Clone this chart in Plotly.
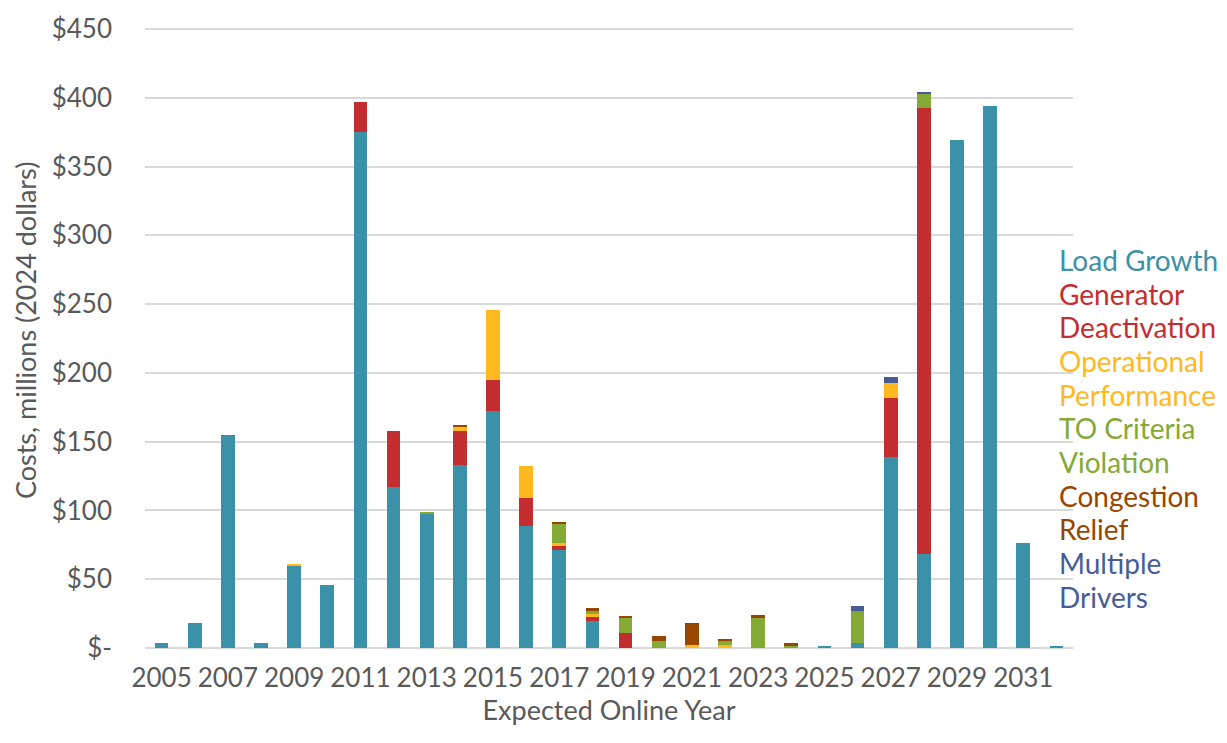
import plotly.graph_objects as go

# Expected online year of each project group
years = list(range(2005, 2033))

# Costs by driver, millions of 2024 dollars
load_growth = [4, 18, 155, 4, 60, 45.7, 375, 117, 98, 133, 172.5, 89, 71, 19.6,
               0, 0, 0, 0, 0, 0, 1.3, 3.3, 139.2, 68.4, 369.4, 394, 76, 1.2]
generator_deactivation = [0, 0, 0, 0, 0, 0, 22, 41, 0, 24.7, 22, 20, 3, 2.9,
                          10.8, 0, 0, 0, 0, 0, 0, 0, 42.4, 324.5, 0, 0, 0, 0]
operational_performance = [0, 0, 0, 0, 1, 0, 0, 0, 0, 3, 51.5, 23, 2, 2.4,
                           0, 0, 2.4, 2.2, 0, 0, 0, 0, 11.3, 0, 0, 0, 0, 0]
to_criteria_violation = [0, 0, 0, 0, 0, 0, 0, 0, 1, 0, 0, 0, 14.7, 2.1,
                         11.2, 5.2, 0, 3.1, 22.5, 1.9, 0, 23.7, 0, 10.5, 0, 0, 0, 0]
congestion_relief = [0, 0, 0, 0, 0, 0, 0, 0, 0, 1, 0, 0, 1, 2.2,
                     0.8, 3.6, 15.6, 1, 1.2, 1.4, 0, 0, 0, 0, 0, 0, 0, 0]
multiple_drivers = [0, 0, 0, 0, 0, 0, 0, 0, 0, 0, 0, 0, 0, 0,
                    0, 0, 0, 0, 0, 0, 0, 3.8, 4.3, 1, 0, 0, 0, 0]

series = [
    (["Load Growth"], load_growth, "#3A91A8"),
    (["Generator", "Deactivation"], generator_deactivation, "#C42D2F"),
    (["Operational", "Performance"], operational_performance, "#FFB81D"),
    (["TO Criteria", "Violation"], to_criteria_violation, "#84A934"),
    (["Congestion", "Relief"], congestion_relief, "#984600"),
    (["Multiple", "Drivers"], multiple_drivers, "#475C96"),
]

y_ticks = [0, 50, 100, 150, 200, 250, 300, 350, 400, 450]
y_tick_text = ["$-"] + [f"${v}" for v in y_ticks[1:]]
x_ticks = list(range(2005, 2033, 2))

FONT = "Lato, 'Open Sans', sans-serif"
GREY = "#595959"

fig = go.Figure()
for name_lines, values, color in series:
    fig.add_trace(go.Bar(
        x=years, y=values, name=" ".join(name_lines),
        marker=dict(color=color, line=dict(width=0)),
        showlegend=False,
    ))

# Text-only legend on the right, one colored line per label row
W, H = 1227, 743
m_l, m_r, m_t, m_b = 145, 154, 19, 95
plot_w = W - m_l - m_r
plot_h = H - m_t - m_b
legend_x_px = 1057
first_line_px = 255
line_step_px = 34.1
row = 0
for name_lines, _, color in series:
    for line in name_lines:
        y_px = first_line_px + row * line_step_px
        fig.add_annotation(
            text=line, xref="paper", yref="paper",
            x=(legend_x_px - m_l) / plot_w, y=(H - m_b - y_px) / plot_h,
            xanchor="left", yanchor="middle", showarrow=False,
            font=dict(family=FONT, size=28, color=color),
        )
        row += 1

# Vertical y-axis title placed near the left edge
fig.add_annotation(
    text="Costs, millions (2024 dollars)", textangle=-90,
    xref="paper", yref="paper",
    x=(25 - m_l) / plot_w, y=(H - m_b - 327) / plot_h,
    xanchor="center", yanchor="middle", showarrow=False,
    font=dict(family=FONT, size=27, color=GREY),
)

fig.update_layout(
    width=W, height=H,
    margin=dict(l=m_l, r=m_r, t=m_t, b=m_b, pad=0),
    barmode="stack", bargap=0.59,
    plot_bgcolor="white", paper_bgcolor="white",
    font=dict(family=FONT, size=26, color=GREY),
)
fig.update_xaxes(
    range=[2004.5, 2032.5], tickmode="array", tickvals=x_ticks,
    ticktext=[str(v) for v in x_ticks],
    showgrid=False, zeroline=False, showline=False,
    ticks="", ticklabelstandoff=12,
    title=dict(text="Expected Online Year", standoff=7,
               font=dict(size=27, color=GREY)),
)
fig.update_yaxes(
    range=[0, 451.5], tickmode="array", tickvals=y_ticks, ticktext=y_tick_text,
    showgrid=True, gridcolor="#D9D9D9", gridwidth=2,
    zeroline=True, zerolinecolor="#D9D9D9", zerolinewidth=2,
    ticks="", ticklabelstandoff=32,
)

fig.write_html("out.html")
